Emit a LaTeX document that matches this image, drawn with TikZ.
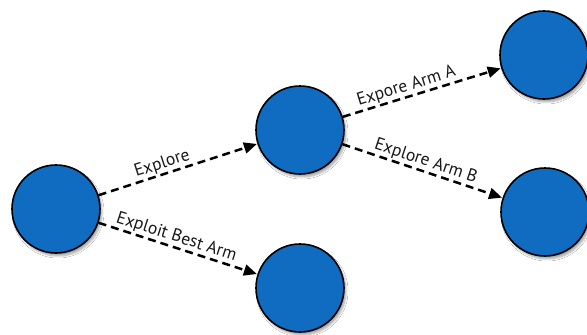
\documentclass[tikz,border=0pt]{standalone}
\usepackage{fontspec}
\setmainfont{PT Sans}
\usetikzlibrary{arrows.meta,shadows.blur}
\definecolor{armblue}{RGB}{16,108,192}
\tikzset{
  arm/.style={circle, draw=black, line width=1.6pt, fill=armblue,
    minimum size=88pt, inner sep=0pt,
    blur shadow={shadow xshift=2pt, shadow yshift=-3pt, shadow opacity=35, shadow blur steps=6}},
  choice/.style={line width=2.5pt, dash pattern=on 8pt off 5pt,
    -{Triangle[length=13pt,width=11pt]}, shorten >=0.5pt},
  lbl/.style={sloped, above, inner sep=1pt, font=\fontsize{17.5}{18}\selectfont, text=black!90}
}
\begin{document}
\begin{tikzpicture}[x=1pt,y=-1pt]
  \useasboundingbox[fill=white] (0,0) rectangle (587,335);
  % states
  \node[arm] (start) at (56,209) {};
  \node[arm] (explore) at (300,130) {};
  \node[arm] (exploit) at (300,288) {};
  \node[arm] (armA) at (544,55) {};
  \node[arm] (armB) at (545,212) {};
  % decisions
  \draw[choice] (start) -- node[lbl, pos=0.42] {Explore} (explore);
  \draw[choice] (start) -- node[lbl, pos=0.47] {Exploit Best Arm} (exploit);
  \draw[choice] (explore) -- node[lbl, pos=0.42] {Expore Arm A} (armA);
  \draw[choice] (explore) -- node[lbl, pos=0.5] {Explore Arm B} (armB);
\end{tikzpicture}
\end{document}
